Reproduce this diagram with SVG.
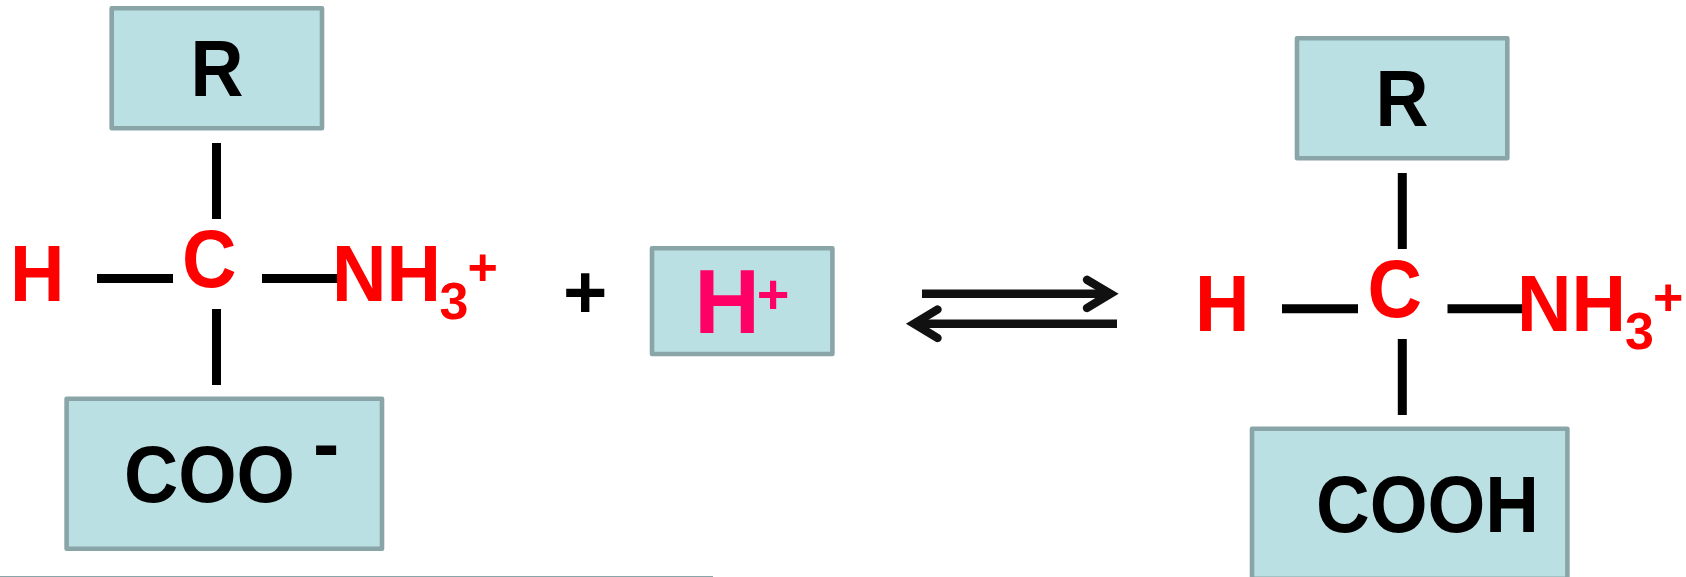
<svg xmlns="http://www.w3.org/2000/svg" width="1686" height="577" viewBox="0 0 1686 577">
<style>
text{font-family:"Liberation Sans",Arial,sans-serif;font-weight:700}
.box{fill:#bbe0e3;stroke:#8aa5a8;stroke-width:4.6;stroke-linejoin:round}
.k{fill:#000}.r{fill:#f00}.p{fill:#f06}
.a{font-size:79px}.c{font-size:81px}.s{font-size:52px}
.b{stroke:#000;stroke-width:9;fill:none}
.e{stroke:#111;stroke-width:8.4;fill:none;stroke-linecap:round;stroke-linejoin:miter}
.l{stroke:#111;stroke-width:8.4;fill:none}
</style>
<rect width="1686" height="577" fill="#fff"/>
<rect x="0" y="576" width="713" height="1" fill="#8aa5a8"/>
<g id="connectors">
<path class="b" d="M216.5 143V219M216.5 309V385M97 278.6H173M262 278.6H338"/>
<path class="b" d="M1402.3 173V249M1402.3 339V415M1282 308.7H1358M1447.5 308.7H1523"/>
<path class="l" d="M922 293.7H1110M1117 323.7H915"/>
<path class="e" d="M1087 279.8L1110.5 293.7L1087 308M937.5 309.5L914 323.7L937.5 338"/>
</g>
<g id="r-left"><rect class="box" x="111.7" y="8.3" width="210.3" height="120"/><text class="a k" x="190.5" y="96.4" textLength="53" lengthAdjust="spacingAndGlyphs">R</text></g>
<g id="h-left"><text class="a r" x="10" y="300.7" textLength="54.5" lengthAdjust="spacingAndGlyphs">H</text></g>
<g id="c-left"><text class="c r" x="182" y="287.2" textLength="54.5" lengthAdjust="spacingAndGlyphs">C</text></g>
<g id="nh3-left"><text class="a r" x="332" y="300.7" textLength="109" lengthAdjust="spacingAndGlyphs">NH</text><text class="s r" x="439.5" y="318.5">3</text><text class="s r" x="467.5" y="285">+</text></g>
<g id="coo"><rect class="box" x="66.6" y="398.7" width="315.4" height="150"/><text class="a k" x="124" y="502" textLength="171" lengthAdjust="spacingAndGlyphs">COO</text><text class="a k" x="313" y="471">-</text></g>
<g id="plus"><text class="k" font-size="76" x="563" y="318">+</text></g>
<g id="hplus"><rect class="box" x="652" y="248.3" width="180.4" height="105.7"/><text class="p" font-size="91" x="694.3" y="333">H</text><text class="p" font-size="56" x="756.7" y="313">+</text></g>
<g id="r-right"><rect class="box" x="1297" y="38.3" width="210.3" height="120"/><text class="a k" x="1375.5" y="126.4" textLength="53" lengthAdjust="spacingAndGlyphs">R</text></g>
<g id="h-right"><text class="a r" x="1195" y="331" textLength="54.5" lengthAdjust="spacingAndGlyphs">H</text></g>
<g id="c-right"><text class="c r" x="1367.5" y="317.3" textLength="54.5" lengthAdjust="spacingAndGlyphs">C</text></g>
<g id="nh3-right"><text class="a r" x="1517" y="331" textLength="109" lengthAdjust="spacingAndGlyphs">NH</text><text class="s r" x="1625" y="348.5">3</text><text class="s r" x="1653" y="315">+</text></g>
<g id="cooh"><rect class="box" x="1252" y="428.7" width="315.4" height="150"/><text class="a k" x="1316" y="531.5" textLength="223" lengthAdjust="spacingAndGlyphs">COOH</text></g>
</svg>
